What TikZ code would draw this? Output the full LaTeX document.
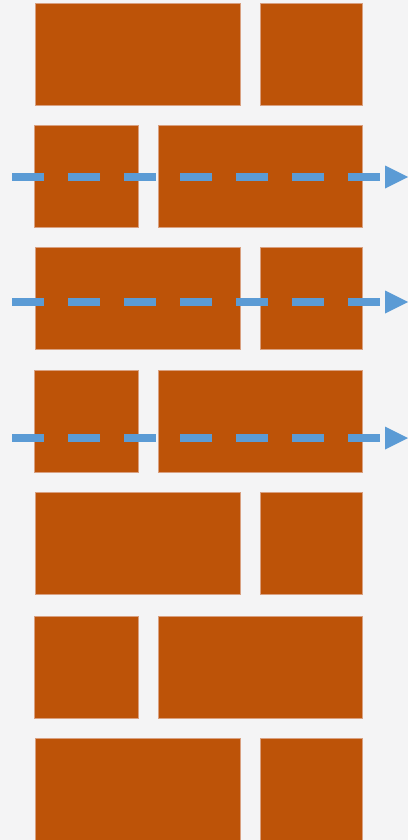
\documentclass[tikz,border=0pt]{standalone}
\usetikzlibrary{arrows.meta}
\definecolor{bg}{HTML}{F4F4F5}
\definecolor{brickfill}{HTML}{BD5308}
\definecolor{brickedge}{HTML}{D9A080}
\definecolor{flowblue}{HTML}{5B9BD5}
\begin{document}
\begin{tikzpicture}[x=1pt,y=-1pt,
  brick/.style={fill=brickfill,draw=brickedge,line width=0.6pt},
  flow/.style={draw=flowblue,line width=8pt,dash pattern=on 32pt off 24pt,
    -{Triangle[length=23pt,width=23pt,line width=0pt,fill=flowblue]}}]
  % canvas
  \fill[bg] (0,0) rectangle (408,840);
  \useasboundingbox (0,0) rectangle (408,840);
  \begin{scope}
  \clip (0,0) rectangle (408,840);
  % courses of bricks: odd courses long-short, even courses short-long
  \foreach \r/\y in {1/3, 3/247, 5/492, 7/738} {
    \draw[brick] (35,\y) rectangle ++(205,102);
    \draw[brick] (260,\y) rectangle ++(102,102);
  }
  \foreach \r/\y in {2/125, 4/370, 6/616} {
    \draw[brick] (34,\y) rectangle ++(104,102);
    \draw[brick] (158,\y) rectangle ++(204,102);
  }
  \end{scope}
  % dashed flow lines across the wall
  \coordinate (s1) at (12,177);  \coordinate (e1) at (408,177);
  \coordinate (s2) at (12,302);  \coordinate (e2) at (408,302);
  \coordinate (s3) at (12,438);  \coordinate (e3) at (408,438);
  \draw[flow] (s1) -- (e1);
  \draw[flow] (s2) -- (e2);
  \draw[flow] (s3) -- (e3);
\end{tikzpicture}
\end{document}
